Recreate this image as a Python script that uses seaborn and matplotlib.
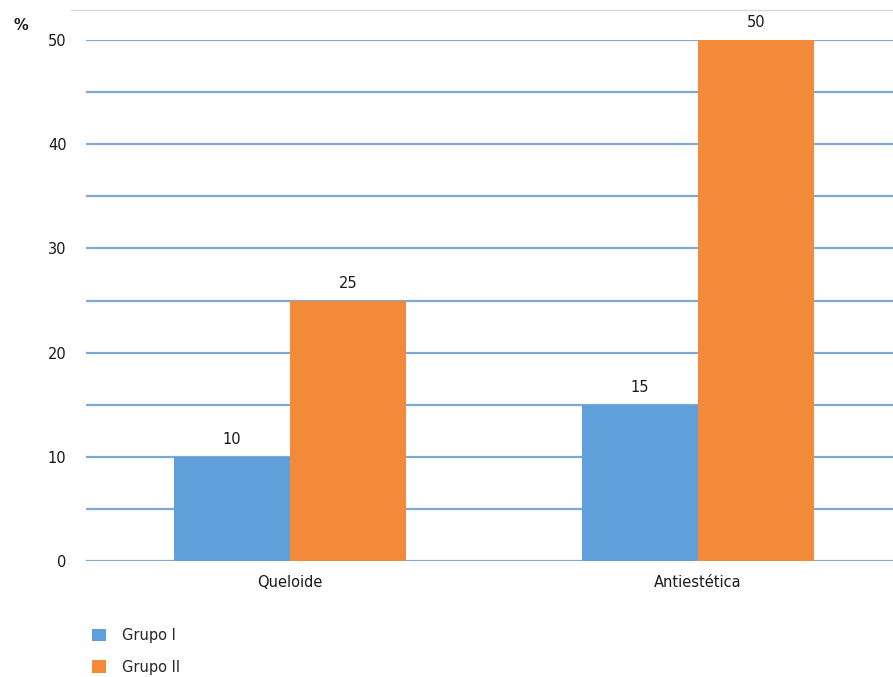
import pandas as pd
import matplotlib.pyplot as plt
import seaborn as sns
from matplotlib.lines import Line2D

categorias = ['Queloide', 'Antiestética']
grupos = ['Grupo I', 'Grupo II']
grupo_i = [10, 15]
grupo_ii = [25, 50]
yticks = [0, 5, 10, 15, 20, 25, 30, 35, 40, 45, 50]
ytick_labels = ['0', '', '10', '', '20', '', '30', '', '40', '', '50']


def main():
    df = pd.DataFrame({
        'categoria': categorias * 2,
        'grupo': [grupos[0]] * 2 + [grupos[1]] * 2,
        'valor': grupo_i + grupo_ii,
    })

    sns.set_style('white')
    plt.rcParams['font.family'] = ['DejaVu Sans']
    plt.rcParams['font.sans-serif'] = ['DejaVu Sans']

    fig = plt.figure(figsize=(8.93, 6.77), dpi=100)
    ax = fig.add_axes([0.0963, 0.1713, 0.9037, 0.7696])

    sns.barplot(data=df, x='categoria', y='valor', hue='grupo',
                palette=['#5f9fdb', '#f28a3a'], width=0.57, saturation=1,
                linewidth=0, edgecolor='none', ax=ax, zorder=3)

    ax.set_ylim(0, 50)
    ax.set_xlim(-0.5, 1.478)
    ax.set_yticks(yticks)
    ax.set_yticklabels(ytick_labels, fontsize=10.5, color='#1a1a1a',
                       family='DejaVu Sans')
    ax.tick_params(axis='both', length=0, pad=14)
    ax.tick_params(axis='x', pad=10, labelsize=10.5, labelcolor='#1a1a1a')
    for t in ax.get_xticklabels():
        t.set_family('DejaVu Sans')
    ax.grid(axis='y', color='#7fa8d4', linewidth=1.6, zorder=0)
    ax.set_axisbelow(True)
    for s in ax.spines.values():
        s.set_visible(False)
    ax.set_xlabel('')
    ax.set_ylabel('')

    for c in ax.containers:
        ax.bar_label(c, fontsize=10.5, padding=7, color='#1a1a1a',
                     family='DejaVu Sans')

    handles, labels = ax.get_legend_handles_labels()
    ax.legend_.remove()
    fig.legend(handles, labels, loc='upper left', bbox_to_anchor=(0.088, 0.092),
               frameon=False, prop={'family': 'DejaVu Sans', 'size': 10.5},
               handlelength=0.95, handleheight=0.95,
               labelspacing=1.15, handletextpad=1.1)

    fig.text(0.015, 0.955, '%', fontsize=10.5, fontweight='bold',
             color='#1a1a1a', family='DejaVu Sans')
    fig.add_artist(Line2D([0.08, 1.0], [0.985, 0.985], color='#d9d9d9',
                          linewidth=1.0, transform=fig.transFigure))

    fig.savefig('out.png', dpi=100)


if __name__ == '__main__':
    main()
